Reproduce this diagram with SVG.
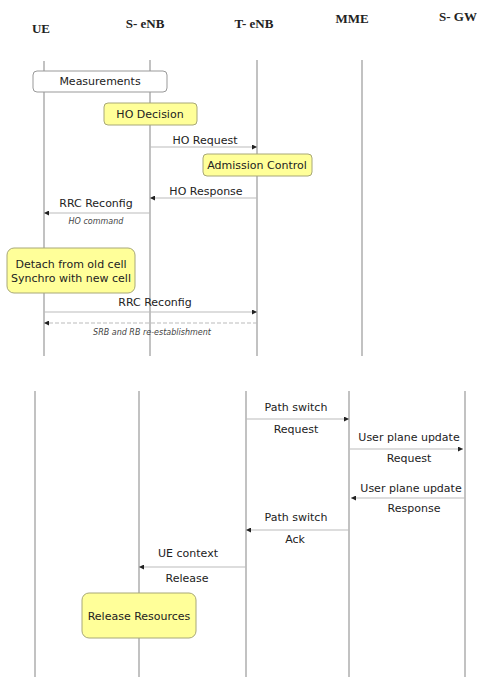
<svg xmlns="http://www.w3.org/2000/svg" width="477" height="677" viewBox="0 0 477 677">
<defs>
<style>
.hdr{font-family:"Liberation Serif",serif;font-weight:bold;font-size:13px;fill:#222;text-anchor:middle}
.lbl{font-family:"DejaVu Sans",sans-serif;font-size:11px;fill:#222;text-anchor:middle}
.it{font-family:"DejaVu Sans",sans-serif;font-style:italic;font-size:8px;fill:#444;text-anchor:middle}
.life{stroke:#999;stroke-width:1.2;fill:none}
.msg{stroke:#bbb;stroke-width:1;fill:none}
.dash{stroke:#bbb;stroke-width:1;fill:none;stroke-dasharray:4,2}
.note{fill:#ffff99;stroke:#a8a878;stroke-width:1}
.white{fill:#fff;stroke:#999;stroke-width:1}
</style>
<marker id="ah" viewBox="0 0 6 6" refX="6" refY="3" markerWidth="5" markerHeight="5" orient="auto" markerUnits="userSpaceOnUse">
<path d="M0,0 L6,3 L0,6 z" fill="#222"/>
</marker>
</defs>
<rect width="477" height="677" fill="#fff"/>
<g id="headers">
<text class="hdr" x="41" y="33">UE</text>
<text class="hdr" x="145" y="28">S- eNB</text>
<text class="hdr" x="254" y="28">T- eNB</text>
<text class="hdr" x="352" y="23">MME</text>
<text class="hdr" x="458" y="21">S- GW</text>
</g>
<g id="lifelines">
<line class="life" x1="44" y1="61" x2="44" y2="356"/>
<line class="life" x1="150" y1="60" x2="150" y2="356"/>
<line class="life" x1="257" y1="60" x2="257" y2="356"/>
<line class="life" x1="362" y1="60" x2="362" y2="356"/>
<line class="life" x1="35" y1="391" x2="35" y2="677"/>
<line class="life" x1="139" y1="391" x2="139" y2="677"/>
<line class="life" x1="246" y1="391" x2="246" y2="677"/>
<line class="life" x1="349" y1="391" x2="349" y2="677"/>
<line class="life" x1="465" y1="391" x2="465" y2="677"/>
</g>
<g id="connectors">
<line class="msg" x1="150" y1="147" x2="257" y2="147" marker-end="url(#ah)"/>
<line class="msg" x1="257" y1="198" x2="150" y2="198" marker-end="url(#ah)"/>
<line class="msg" x1="150" y1="213" x2="44" y2="213" marker-end="url(#ah)"/>
<line class="msg" x1="44" y1="312" x2="257" y2="312" marker-end="url(#ah)"/>
<line class="dash" x1="257" y1="323" x2="44" y2="323" marker-end="url(#ah)"/>
<line class="msg" x1="246" y1="419" x2="349" y2="419" marker-end="url(#ah)"/>
<line class="msg" x1="350" y1="449" x2="463" y2="449" marker-end="url(#ah)"/>
<line class="msg" x1="465" y1="498" x2="351" y2="498" marker-end="url(#ah)"/>
<line class="msg" x1="349" y1="530" x2="246" y2="530" marker-end="url(#ah)"/>
<line class="msg" x1="246" y1="567" x2="139" y2="567" marker-end="url(#ah)"/>
</g>
<g id="labels">
<text class="lbl" x="205" y="144">HO Request</text>
<text class="lbl" x="206" y="195">HO Response</text>
<text class="lbl" x="96" y="207">RRC Reconfig</text>
<text class="it" x="96" y="224">HO command</text>
<text class="lbl" x="155" y="306">RRC Reconfig</text>
<text class="it" x="152" y="335">SRB and RB re-establishment</text>
<text class="lbl" x="296" y="411">Path switch</text>
<text class="lbl" x="296" y="433">Request</text>
<text class="lbl" x="409" y="441">User plane update</text>
<text class="lbl" x="409" y="462">Request</text>
<text class="lbl" x="411" y="492">User plane update</text>
<text class="lbl" x="414" y="512">Response</text>
<text class="lbl" x="296" y="521">Path switch</text>
<text class="lbl" x="295" y="543">Ack</text>
<text class="lbl" x="188" y="557">UE context</text>
<text class="lbl" x="187" y="582">Release</text>
</g>
<g id="measurements">
<rect class="white" x="33" y="71" width="134" height="21" rx="4"/>
<text class="lbl" x="100" y="85">Measurements</text>
</g>
<g id="ho-decision">
<rect class="note" x="104" y="103" width="93" height="22" rx="4"/>
<text class="lbl" x="150" y="118">HO Decision</text>
</g>
<g id="admission-control">
<rect class="note" x="203" y="154" width="109" height="22" rx="4"/>
<text class="lbl" x="257" y="169">Admission Control</text>
</g>
<g id="detach">
<rect class="note" x="7" y="248" width="128" height="45" rx="7"/>
<text class="lbl" x="71" y="268">Detach from old cell</text>
<text class="lbl" x="71" y="282">Synchro with new cell</text>
</g>
<g id="release-resources">
<rect class="note" x="82" y="593" width="114" height="45" rx="7"/>
<text class="lbl" x="139" y="620">Release Resources</text>
</g>
</svg>
